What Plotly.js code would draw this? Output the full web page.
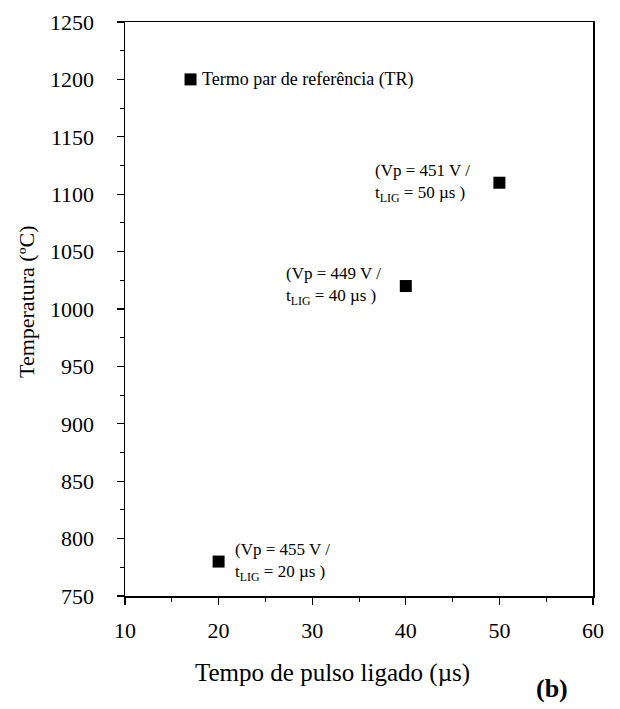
<!DOCTYPE html>
<html>
<head>
<meta charset="utf-8">
<script src="https://cdn.plot.ly/plotly-3.0.1.min.js"></script>
<style>
  html, body { margin: 0; padding: 0; background: #fff; }
  #chart { width: 620px; height: 709px; }
</style>
</head>
<body>
<div id="chart"></div>
<script>
// Pulse-on time (µs) and measured temperature (°C)
const pulseTime = [20, 40, 50];
const temperature = [780, 1020, 1110];
const pulseLabels = [
  '(Vp = 455 V /<br>t<sub>LIG</sub> = 20 µs )',
  '(Vp = 449 V /<br>t<sub>LIG</sub> = 40 µs )',
  '(Vp = 451 V /<br>t<sub>LIG</sub> = 50 µs )'
];
// Reference thermocouple reading
const refTime = [17];
const refTemp = [1200];
const refLabel = 'Termo par de referência (TR)';

const xTicks = [10, 20, 30, 40, 50, 60];
const yTicks = [750, 800, 850, 900, 950, 1000, 1050, 1100, 1150, 1200, 1250];

const xTitle = 'Tempo de pulso ligado (µs)';
const yTitle = 'Temperatura (ºC)';
const panelTag = '<b>(b)</b>';

const serif = 'Liberation Serif, Times New Roman, serif';
const markerStyle = { symbol: 'square', size: 12, color: '#000' };

const traces = [
  { x: pulseTime, y: temperature, mode: 'markers', type: 'scatter', marker: markerStyle, hoverinfo: 'x+y' },
  { x: refTime, y: refTemp, mode: 'markers', type: 'scatter', marker: markerStyle, hoverinfo: 'x+y' }
];

// Plot area in pixels, used to place the free-standing titles
const plotL = 125, plotR = 593, plotT = 22, plotB = 596;
const pw = plotR - plotL, ph = plotB - plotT;
const px = v => (v - plotL) / pw;
const py = v => (plotB - v) / ph;

// label placement around each point
const labelSide = ['left', 'right', 'right'];
const labelShift = [14, -23, -27];
const annotations = pulseTime.map((t, i) => ({
  x: t, y: temperature[i], xref: 'x', yref: 'y',
  text: pulseLabels[i], showarrow: false,
  xanchor: labelSide[i], yanchor: 'middle', xshift: labelShift[i],
  align: 'left',
  font: { family: serif, size: 17, color: '#000' }
}));
annotations.push({
  x: refTime[0], y: refTemp[0], xref: 'x', yref: 'y',
  text: refLabel, showarrow: false, xanchor: 'left', yanchor: 'middle', xshift: 9,
  font: { family: serif, size: 18, color: '#000' }
});
// axis titles
annotations.push({
  x: px(332), y: py(673), xref: 'paper', yref: 'paper', text: xTitle, showarrow: false,
  xanchor: 'center', yanchor: 'middle',
  font: { family: serif, size: 25, color: '#000' }
});
annotations.push({
  x: px(26), y: py(302), xref: 'paper', yref: 'paper', text: yTitle, showarrow: false,
  xanchor: 'center', yanchor: 'middle', textangle: -90,
  font: { family: serif, size: 22, color: '#000' }
});
// panel tag
annotations.push({
  x: px(552), y: py(689), xref: 'paper', yref: 'paper', text: panelTag, showarrow: false,
  xanchor: 'center', yanchor: 'middle',
  font: { family: serif, size: 26, color: '#000' }
});

const axisCommon = {
  showgrid: false, zeroline: false,
  showline: true, linecolor: '#000', linewidth: 1.5, mirror: true,
  ticks: 'outside', ticklen: 7, tickwidth: 1.2, tickcolor: '#000',
  tickfont: { family: serif, size: 22, color: '#000' }
};

const layout = {
  width: 620, height: 709,
  margin: { l: plotL, r: 620 - plotR, t: plotT, b: 709 - plotB },
  paper_bgcolor: '#fff', plot_bgcolor: '#fff',
  showlegend: false,
  xaxis: Object.assign({}, axisCommon, {
    range: [10, 60], tickvals: xTicks, ticktext: xTicks.map(String),
    ticklabelstandoff: 7,
    minor: { dtick: 5, tick0: 10, ticks: 'outside', ticklen: 4, tickcolor: '#000', tickwidth: 1 }
  }),
  yaxis: Object.assign({}, axisCommon, {
    range: [750, 1250], tickvals: yTicks, ticktext: yTicks.map(String),
    ticklabelstandoff: 18,
    minor: { dtick: 25, tick0: 750, ticks: 'outside', ticklen: 4, tickcolor: '#000', tickwidth: 1 }
  }),
  annotations: annotations
};

Plotly.newPlot('chart', traces, layout, { displayModeBar: false, staticPlot: true });
</script>
</body>
</html>
